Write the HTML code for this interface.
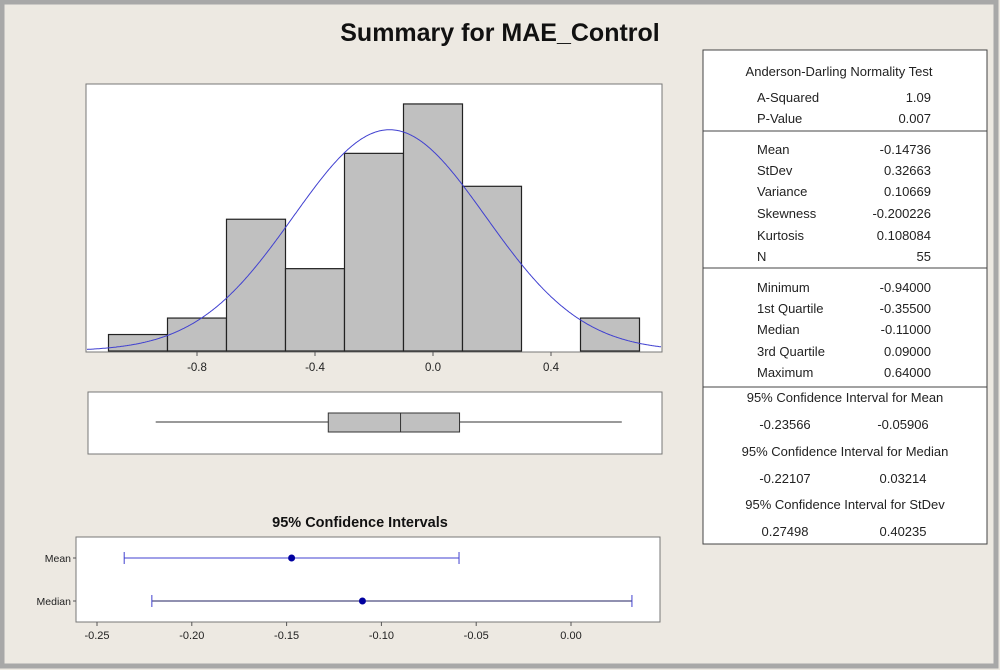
<!DOCTYPE html>
<html><head><meta charset="utf-8"><style>
html,body{margin:0;padding:0;background:#ede9e2}
svg{display:block}
text{font-family:"Liberation Sans","DejaVu Sans",sans-serif}
</style></head><body>
<svg id="s" width="1000" height="670" viewBox="0 0 1000 670">
<rect x="0" y="0" width="1000" height="670" fill="#ede9e2"/>
<rect x="2" y="2" width="994" height="664" fill="none" stroke="#a8a8a8" stroke-width="5"/>
<text x="500" y="41" text-anchor="middle" font-size="25" font-weight="bold" fill="#111">Summary for MAE_Control</text>
<rect x="86" y="84" width="576" height="268" fill="#fff" stroke="#777"/>
<g id="hist"></g>
<rect x="88" y="392" width="574" height="62" fill="#fff" stroke="#777"/>
<g id="box"></g>
<text x="360" y="527" text-anchor="middle" font-size="14.5" font-weight="bold" fill="#111">95% Confidence Intervals</text>
<rect x="76" y="537" width="584" height="85" fill="#fff" stroke="#777"/>
<g id="ci"></g>
<g id="table" font-size="13" fill="#222"></g>
</svg>
<script>
const binEdges=[-1.1,-0.9,-0.7,-0.5,-0.3,-0.1,0.1,0.3,0.5,0.7];
const binCounts=[1,2,8,5,12,15,10,0,2];
const histTicks=[-0.8,-0.4,0.0,0.4];
const histTickLabels=["-0.8","-0.4","0.0","0.4"];
const meanVal=-0.14736, sdVal=0.32663, nVal=55;
const fiveNum=[-0.94,-0.355,-0.11,0.09,0.64];
const ciCats=["Mean","Median"];
const ciLow=[-0.23566,-0.22107];
const ciHigh=[-0.05906,0.03214];
const ciPoint=[-0.14736,-0.11];
const ciTicks=[-0.25,-0.20,-0.15,-0.10,-0.05,0.00];
const ciTickLabels=["-0.25","-0.20","-0.15","-0.10","-0.05","0.00"];
const NS='http://www.w3.org/2000/svg';
function mk(p,t,a){const e=document.createElementNS(NS,t);for(const k in a)e.setAttribute(k,a[k]);p.appendChild(e);return e;}
const hx=v=>433+295*v, hy=c=>351-16.47*c;
const H=document.getElementById('hist');
for(let i=0;i<binCounts.length;i++){if(!binCounts[i])continue;
 const r=mk(H,'rect',{x:hx(binEdges[i]),y:hy(binCounts[i]),width:hx(binEdges[i+1])-hx(binEdges[i]),height:hy(0)-hy(binCounts[i]),fill:'#c0c0c0',stroke:'#222','stroke-width':1.2});
 
 }
let d='';for(let px=87;px<=661;px++){const v=(px-433)/295;const c=nVal*0.2/(sdVal*Math.sqrt(2*Math.PI))*Math.exp(-0.5*((v-meanVal)/sdVal)**2);d+=(px==87?'M':'L')+px+','+hy(c).toFixed(1);}
const cv=mk(H,'path',{d:d,fill:'none',stroke:'#4040d0','stroke-width':1});


histTicks.forEach((t,i)=>{mk(H,'line',{x1:hx(t),x2:hx(t),y1:352,y2:356,stroke:'#555'});
 const tx=mk(H,'text',{x:hx(t),y:371,'text-anchor':'middle','font-size':11.5,fill:'#222'});tx.textContent=histTickLabels[i];
 
 });
const B=document.getElementById('box');
mk(B,'line',{x1:hx(fiveNum[0]),x2:hx(fiveNum[1]),y1:422,y2:422,stroke:'#333'});
mk(B,'line',{x1:hx(fiveNum[3]),x2:hx(fiveNum[4]),y1:422,y2:422,stroke:'#333'});
const bx=mk(B,'rect',{x:hx(fiveNum[1]),y:413,width:hx(fiveNum[3])-hx(fiveNum[1]),height:19,fill:'#c0c0c0',stroke:'#333'});


mk(B,'line',{x1:hx(fiveNum[2]),x2:hx(fiveNum[2]),y1:413,y2:432,stroke:'#333'});
const cx=v=>571+1896*v, cys=[558,601];
const C=document.getElementById('ci');
ciCats.forEach((c,i)=>{const y=cys[i];
 const ln=mk(C,'line',{x1:cx(ciLow[i]),x2:cx(ciHigh[i]),y1:y,y2:y,stroke:i?'#222060':'#4040d0'});
 
 
 mk(C,'line',{x1:cx(ciLow[i]),x2:cx(ciLow[i]),y1:y-6,y2:y+6,stroke:'#4040d0'});
 mk(C,'line',{x1:cx(ciHigh[i]),x2:cx(ciHigh[i]),y1:y-6,y2:y+6,stroke:'#4040d0'});
 const p=mk(C,'circle',{cx:cx(ciPoint[i]),cy:y,r:3.5,fill:'#0000a0'});
 
 
 mk(C,'line',{x1:73,x2:76,y1:y,y2:y,stroke:'#555'});
 const t=mk(C,'text',{x:71,y:y+4,'text-anchor':'end','font-size':10.5,fill:'#222'});t.textContent=c;
 
 });
ciTicks.forEach((v,i)=>{mk(C,'line',{x1:cx(v),x2:cx(v),y1:622,y2:626,stroke:'#555'});
 const t=mk(C,'text',{x:cx(v),y:639,'text-anchor':'middle','font-size':11,fill:'#222'});t.textContent=ciTickLabels[i];
 
 });
const T=document.getElementById('table');
const tb=mk(T,'rect',{x:703,y:50,width:284,height:494,fill:'#fff',stroke:'#444'});


[131,268,387].forEach(y=>mk(T,'line',{x1:703,x2:987,y1:y,y2:y,stroke:'#444'}));
function tt(x,y,s,a){const e=mk(T,'text',{x:x,y:y,'text-anchor':a});e.textContent=s;
 
 }
tt(839,76,'Anderson-Darling Normality Test','middle');
const rows=[["A-Squared","1.09",102],["P-Value","0.007",123],["Mean","-0.14736",154],["StDev","0.32663",175],["Variance","0.10669",196],["Skewness","-0.200226",218],["Kurtosis","0.108084",240],["N","55",261],["Minimum","-0.94000",292],["1st Quartile","-0.35500",313],["Median","-0.11000",334],["3rd Quartile","0.09000",356],["Maximum","0.64000",377]];
rows.forEach(r=>{tt(757,r[2],r[0],'start');tt(931,r[2],r[1],'end');});
const cis=[["95% Confidence Interval for Mean","-0.23566","-0.05906",402],["95% Confidence Interval for Median","-0.22107","0.03214",456],["95% Confidence Interval for StDev","0.27498","0.40235",509]];
cis.forEach(c=>{tt(845,c[3],c[0],'middle');tt(785,c[3]+27,c[1],'middle');tt(903,c[3]+27,c[2],'middle');});
</script>
</body></html>
